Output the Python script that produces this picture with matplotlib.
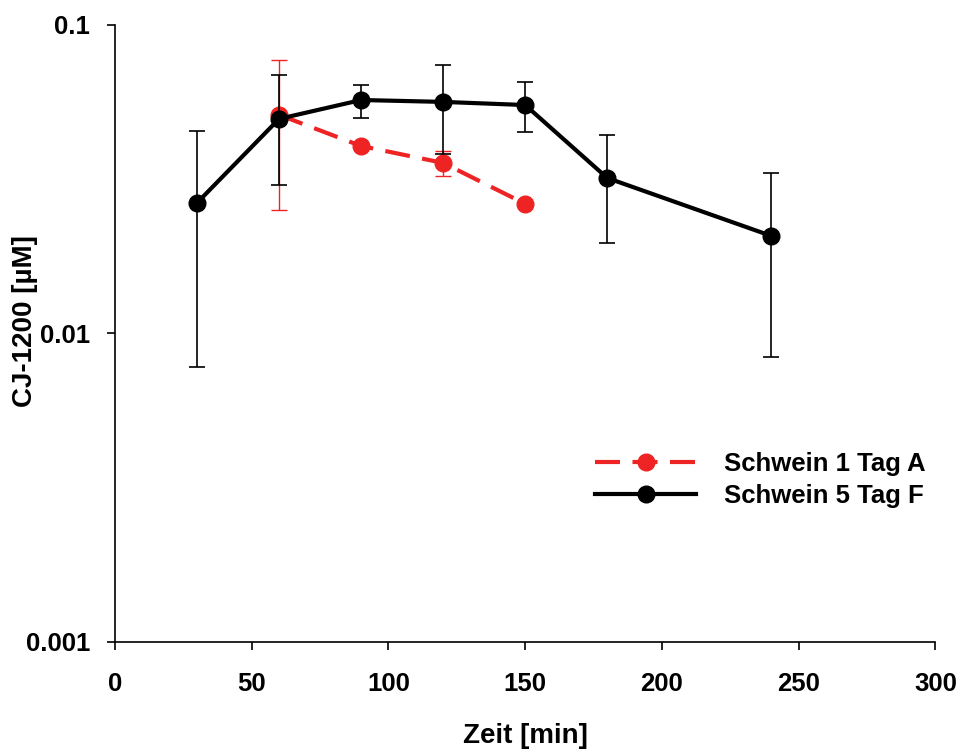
import matplotlib
matplotlib.use('Agg')
import matplotlib.pyplot as plt
from matplotlib.lines import Line2D
from matplotlib.ticker import FixedLocator, NullLocator

plt.rcParams['font.family'] = ['Liberation Sans', 'DejaVu Sans']
plt.rcParams['font.weight'] = 'bold'

# Schwein 1 Tag A
t_a = [60, 90, 120, 150]
c_a = [0.0511, 0.0405, 0.0357, 0.0263]
sd_a = [0.026, 0.0, 0.0033, 0.0]

# Schwein 5 Tag F
t_f = [30, 60, 90, 120, 150, 180, 240]
c_f = [0.0265, 0.0496, 0.0571, 0.0563, 0.0550, 0.0319, 0.0207]
sd_f = [0.0187, 0.0193, 0.0070, 0.0180, 0.0101, 0.0122, 0.0123]

labels = ['Schwein 1 Tag A', 'Schwein 5 Tag F']
red = '#EE2424'
fs = 18.5

fig = plt.figure(figsize=(9.63, 7.56), dpi=100)
ax = fig.add_axes([0.1194, 0.151, 0.852, 0.816])

ax.errorbar(t_a, c_a, yerr=sd_a, color=red, ecolor=red, elinewidth=1,
            capsize=6, capthick=1, marker='o', markersize=12,
            linewidth=3, dashes=(6, 3), zorder=2)
ax.errorbar(t_f, c_f, yerr=sd_f, color='black', ecolor='black', elinewidth=1.2,
            capsize=6, capthick=1.2, marker='o', markersize=12,
            linewidth=3, zorder=3)

ax.set_yscale('log')
ax.set_ylim(0.001, 0.1)
ax.set_xlim(0, 300)
ax.yaxis.set_major_locator(FixedLocator([0.001, 0.01, 0.1]))
ax.yaxis.set_minor_locator(NullLocator())
ax.set_yticklabels(['0.001', '0.01', '0.1'])
ax.set_xticks([0, 50, 100, 150, 200, 250, 300])

for s in ['top', 'right']:
    ax.spines[s].set_visible(False)
for s in ['left', 'bottom']:
    ax.spines[s].set_linewidth(1.2)

ax.tick_params(direction='out', length=6, width=1.2, labelsize=fs)
ax.tick_params(axis='y', pad=12)
ax.tick_params(axis='x', pad=16)
ax.set_xlabel('Zeit [min]', fontsize=20, fontweight='bold', labelpad=19)
ax.set_ylabel('CJ-1200 [µM]', fontsize=20, fontweight='bold')
ax.yaxis.set_label_coords(-0.094, 0.52)

handles = [
    Line2D([], [], color=red, lw=3, dashes=(6, 3), marker='o', markersize=12),
    Line2D([], [], color='black', lw=3, marker='o', markersize=12),
]
ax.legend(handles, labels, loc='lower right', bbox_to_anchor=(1.016, 0.179),
          frameon=False, fontsize=fs, handlelength=3.95, handletextpad=1.07,
          labelspacing=0.33)

fig.savefig('out.png', dpi=100)
